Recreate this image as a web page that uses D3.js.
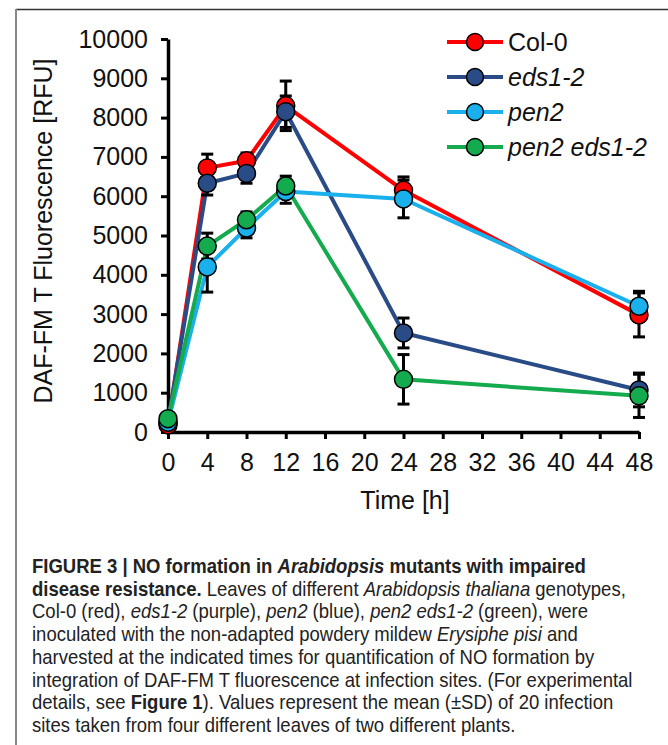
<html>
<head>
<meta charset="utf-8">
<style>
  body { margin: 0; background: #fff; }
  svg { display: block; font-family: "Liberation Sans", Arial, sans-serif; }
</style>
</head>
<body>
<div id="chart"></div>
<script src="https://d3js.org/d3.v7.min.js"></script>
<script>
// hours after inoculation
var times = [0, 4, 8, 12, 24, 48]
var seriesNames = ["Col-0", "eds1-2", "pen2", "pen2 eds1-2"]
var italicNames = [false, true, true, true]
var colors = ["#ff0000", "#2a4c86", "#19b0ec", "#14aa4e"]

// mean DAF-FM T fluorescence [RFU]
var col0 = [180, 6720, 6900, 8300, 6150, 2980]
var eds12 = [250, 6330, 6580, 8150, 2520, 1070]
var pen2 = [250, 4200, 5190, 6120, 5930, 3200]
var pen2eds12 = [340, 4730, 5400, 6260, 1340, 920]

// standard deviations
var col0Sd = [80, 350, 200, 630, 340, 560]
var eds12Sd = [80, 300, 250, 400, 380, 430]
var pen2Sd = [80, 640, 250, 300, 480, 380]
var pen2eds12Sd = [80, 330, 200, 250, 630, 550]

var xTicks = [0, 4, 8, 12, 16, 20, 24, 28, 32, 36, 40, 44, 48]
var yTicks = [0, 1000, 2000, 3000, 4000, 5000, 6000, 7000, 8000, 9000, 10000]

var means = [col0, eds12, pen2, pen2eds12]
var sds = [col0Sd, eds12Sd, pen2Sd, pen2eds12Sd]
var series = seriesNames.map(function (name, i) {
  return {
    name: name, italic: italicNames[i], color: colors[i],
    points: times.map(function (t, j) { return { t: t, v: means[i][j], sd: sds[i][j] } })
  }
})

var width = 668, height = 745

var svg = d3.select("#chart").append("svg")
  .attr("width", width).attr("height", height)

// page frame
svg.append("line").attr("x1", 16).attr("x2", width).attr("y1", 9.5).attr("y2", 9.5)
  .attr("stroke", "#333").attr("stroke-width", 1.5)
svg.append("line").attr("x1", 16).attr("x2", 16).attr("y1", 9).attr("y2", height)
  .attr("stroke", "#888").attr("stroke-width", 2)

var x = d3.scaleLinear().domain([0, 48]).range([168, 639])
var y = d3.scaleLinear().domain([0, 10000]).range([432, 39])

// axes
svg.append("g").attr("transform", "translate(168,0)")
  .call(d3.axisLeft(y).tickValues(yTicks).tickFormat(d3.format("d"))
    .tickSize(7).tickSizeOuter(0).tickPadding(13))
svg.append("g").attr("transform", "translate(0,432)")
  .call(d3.axisBottom(x).tickValues(xTicks).tickFormat(d3.format("d"))
    .tickSize(7).tickSizeOuter(0).tickPadding(14))

svg.selectAll(".domain").attr("stroke", "#000").attr("stroke-width", 3.5)
svg.selectAll(".tick line").attr("stroke", "#000").attr("stroke-width", 3)
svg.selectAll(".tick text").attr("font-size", 25).attr("fill", "#111")
  .style("font-family", "'Liberation Sans', Arial, sans-serif")

svg.append("text")
  .attr("transform", "translate(52,231) rotate(-90)")
  .attr("text-anchor", "middle")
  .attr("font-size", 25).attr("fill", "#111")
  .text("DAF-FM T Fluorescence [RFU]")

svg.append("text")
  .attr("x", 405).attr("y", 509)
  .attr("text-anchor", "middle")
  .attr("font-size", 25).attr("fill", "#111")
  .text("Time [h]")

// lines
var line = d3.line().x(function (d) { return x(d.t) }).y(function (d) { return y(d.v) })
svg.append("g").selectAll("path").data(series).enter().append("path")
  .attr("d", function (d) { return line(d.points) })
  .attr("fill", "none")
  .attr("stroke", function (d) { return d.color })
  .attr("stroke-width", 4)
  .attr("stroke-linejoin", "round")

// error bars
var eb = svg.append("g").attr("stroke", "#000").attr("stroke-width", 3)
series.forEach(function (s) {
  s.points.forEach(function (p) {
    var cx = x(p.t), y0 = y(p.v - p.sd), y1 = y(p.v + p.sd)
    eb.append("line").attr("x1", cx).attr("x2", cx).attr("y1", y0).attr("y2", y1)
    eb.append("line").attr("x1", cx - 6).attr("x2", cx + 6).attr("y1", y0).attr("y2", y0)
    eb.append("line").attr("x1", cx - 6).attr("x2", cx + 6).attr("y1", y1).attr("y2", y1)
  })
})

// markers
series.forEach(function (s) {
  svg.append("g").selectAll("circle").data(s.points).enter().append("circle")
    .attr("cx", function (d) { return x(d.t) })
    .attr("cy", function (d) { return y(d.v) })
    .attr("r", 9)
    .attr("fill", s.color)
    .attr("stroke", "#000").attr("stroke-width", 1.5)
})

// legend
var legend = svg.append("g").selectAll("g").data(series).enter().append("g")
  .attr("transform", function (d, i) { return "translate(447," + (42 + i * 35) + ")" })
legend.append("line").attr("x1", 0).attr("x2", 56)
  .attr("stroke", function (d) { return d.color }).attr("stroke-width", 4)
legend.append("circle").attr("cx", 28).attr("r", 8.5)
  .attr("fill", function (d) { return d.color })
  .attr("stroke", "#000").attr("stroke-width", 1.5)
legend.append("text").attr("x", 61).attr("y", 9)
  .attr("font-size", 25).attr("fill", "#111")
  .attr("font-style", function (d) { return d.italic ? "italic" : "normal" })
  .text(function (d) { return d.name })

// caption
var captionLines = [
  [["FIGURE 3 | NO formation in ", "b"], ["Arabidopsis", "bi"], [" mutants with impaired", "b"]],
  [["disease resistance.", "b"], [" Leaves of different ", ""], ["Arabidopsis thaliana", "i"], [" genotypes,", ""]],
  [["Col-0 (red), ", ""], ["eds1-2", "i"], [" (purple), ", ""], ["pen2", "i"], [" (blue), ", ""], ["pen2 eds1-2", "i"], [" (green), were", ""]],
  [["inoculated with the non-adapted powdery mildew ", ""], ["Erysiphe pisi", "i"], [" and", ""]],
  [["harvested at the indicated times for quantification of NO formation by", ""]],
  [["integration of DAF-FM T fluorescence at infection sites. (For experimental", ""]],
  [["details, see ", ""], ["Figure 1", "b"], ["). Values represent the mean (\u00b1SD) of 20 infection", ""]],
  [["sites taken from four different leaves of two different plants.", ""]]
]
var caption = svg.append("g")
  .attr("font-size", 20).attr("fill", "#222")
var captionText = []
captionLines.forEach(function (parts, i) {
  var t = caption.append("text").attr("x", 0).attr("y", 0)
  parts.forEach(function (p) {
    t.append("tspan").text(p[0])
      .attr("font-weight", p[1].indexOf("b") >= 0 ? "bold" : "normal")
      .attr("font-style", p[1].indexOf("i") >= 0 ? "italic" : "normal")
  })
  captionText.push(t)
})
// condensed face: squeeze so the "integration ..." line ends where the printed one does
var sx = (633 - 32) / captionText[5].node().getComputedTextLength()
captionText.forEach(function (t, i) {
  t.attr("transform", "translate(32," + (573 + i * 22.7) + ") scale(" + sx + ",1)")
})
</script>
</body>
</html>
